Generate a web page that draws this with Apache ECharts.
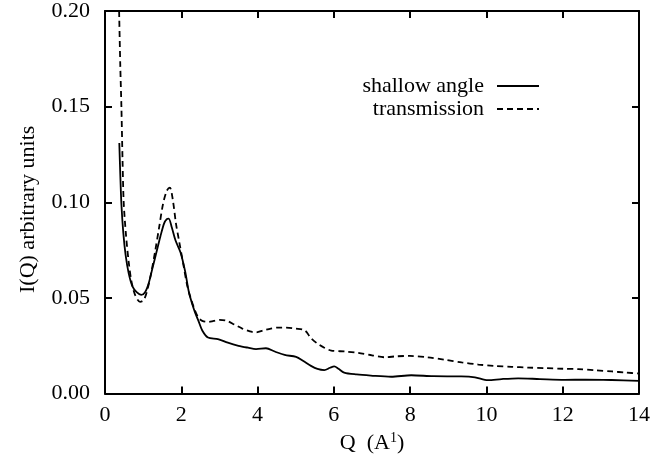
<!DOCTYPE html>
<html>
<head>
<meta charset="utf-8">
<script src="https://cdn.jsdelivr.net/npm/echarts@6/dist/echarts.min.js"></script>
<style>
  html, body { margin: 0; padding: 0; background: #fff; }
  #chart { width: 669px; height: 459px; }
</style>
</head>
<body>
<div id="chart"></div>
<script>
// values
var xTicks = [0, 2, 4, 6, 8, 10, 12, 14];
var yTicks = [0.00, 0.05, 0.10, 0.15, 0.20];

var shallowQ = [0.375, 0.40, 0.43, 0.48, 0.54, 0.62, 0.72, 0.83, 0.95, 1.05, 1.15, 1.25, 1.35, 1.45,
    1.55, 1.62, 1.67, 1.75, 1.85, 1.98, 2.1, 2.2, 2.3, 2.36, 2.45, 2.55, 2.70, 2.96, 3.22, 3.5,
    3.75, 3.96, 4.22, 4.45, 4.71, 5.01, 5.2, 5.4, 5.57, 5.75, 5.9, 6.01, 6.12, 6.27, 6.6, 6.97,
    7.5, 8.03, 8.6, 9.34, 9.7, 10.04, 10.4, 10.83, 11.4, 12.05, 12.6, 13.28, 14.0];
var shallowI = [0.131, 0.115, 0.099, 0.084, 0.0725, 0.063, 0.056, 0.053, 0.0516, 0.053, 0.058, 0.066, 0.074, 0.082,
    0.089, 0.0912, 0.0915, 0.087, 0.080, 0.0738, 0.064, 0.053, 0.046, 0.0424, 0.038, 0.033, 0.0293, 0.0285, 0.0266, 0.025,
    0.024, 0.0233, 0.0237, 0.022, 0.0202, 0.0192, 0.017, 0.0145, 0.0129, 0.0123, 0.0135, 0.0142, 0.013, 0.011, 0.0100, 0.0094,
    0.0088, 0.0096, 0.0091, 0.009, 0.0085, 0.007, 0.0076, 0.008, 0.0076, 0.0072, 0.0073, 0.0071, 0.0067];

var transQ = [0.37, 0.40, 0.43, 0.46, 0.49, 0.55, 0.62, 0.70, 0.80, 0.92, 1.02, 1.12, 1.22, 1.32, 1.42,
    1.52, 1.62, 1.70, 1.78, 1.86, 1.94, 2.05, 2.15, 2.23, 2.33, 2.44, 2.55, 2.7, 2.85, 3.0, 3.2,
    3.4, 3.6, 3.8, 3.96, 4.15, 4.35, 4.53, 4.75, 5.0, 5.24, 5.4, 5.58, 5.75, 5.93, 6.3, 6.63,
    7.0, 7.33, 7.65, 7.99, 8.45, 8.91, 9.35, 9.79, 10.2, 10.66, 11.1, 11.54, 12.0, 12.41, 12.85,
    13.29, 13.65, 14.0];
var transI = [0.200, 0.172, 0.150, 0.122, 0.100, 0.083, 0.069, 0.058, 0.051, 0.048, 0.049, 0.055, 0.064, 0.075, 0.087,
    0.099, 0.106, 0.1077, 0.101, 0.089, 0.080, 0.068, 0.057, 0.051, 0.045, 0.040, 0.038, 0.0375, 0.038, 0.0385, 0.038,
    0.036, 0.034, 0.0325, 0.032, 0.033, 0.034, 0.0345, 0.0345, 0.034, 0.033, 0.029, 0.026, 0.024, 0.0225, 0.022, 0.0213,
    0.020, 0.019, 0.0195, 0.0197, 0.019, 0.0177, 0.0163, 0.0152, 0.0145, 0.014, 0.0136, 0.0133, 0.013, 0.0128, 0.0122,
    0.0116, 0.011, 0.0105];

function pairs(xs, ys) {
    var out = [];
    for (var i = 0; i < xs.length; i++) out.push([xs[i], ys[i]]);
    return out;
}

var font = 'Liberation Serif';
var myChart = echarts.init(document.getElementById('chart'));

function frameLine() {
    return { show: true, onZero: false, lineStyle: { color: '#000', width: 2 } };
}
function inTicks() {
    return { show: true, inside: true, length: 7, lineStyle: { color: '#000', width: 2 } };
}
function legendBox(name, top) {
    return {
        data: [name],
        right: 124, top: top,
        align: 'right',
        itemWidth: 42, itemHeight: 12,
        selectedMode: false,
        itemStyle: { opacity: 0 },
        textStyle: { fontFamily: font, fontSize: 22, color: '#000', padding: [0, 8, 0, 0] }
    };
}

var option = {
    animation: false,
    backgroundColor: '#fff',
    grid: { left: 105, right: 30, top: 11, bottom: 63 },
    legend: [legendBox('shallow angle', 70), legendBox('transmission', 93)],
    xAxis: [
        {
            type: 'value', min: 0, max: 14, interval: 2,
            name: 'Q  (A{sup|1})',
            nameLocation: 'middle', nameGap: 28,
            nameTextStyle: {
                fontFamily: font, fontSize: 22, color: '#000',
                rich: { sup: { fontFamily: font, fontSize: 14, color: '#000', verticalAlign: 'top', padding: [0, 0, 9, 0] } }
            },
            axisLine: frameLine(),
            axisTick: inTicks(),
            splitLine: { show: false },
            axisLabel: { fontFamily: font, fontSize: 22, color: '#000', margin: 11 }
        },
        {
            type: 'value', min: 0, max: 14, interval: 2, position: 'top',
            axisLine: frameLine(), axisTick: inTicks(),
            axisLabel: { show: false }, splitLine: { show: false }
        }
    ],
    yAxis: [
        {
            type: 'value', min: 0, max: 0.2, interval: 0.05,
            name: 'I(Q) arbitrary units',
            nameLocation: 'middle', nameGap: 66,
            nameTextStyle: { fontFamily: font, fontSize: 22, color: '#000', padding: [0, 14, 0, 0] },
            axisLine: frameLine(),
            axisTick: inTicks(),
            splitLine: { show: false },
            axisLabel: {
                fontFamily: font, fontSize: 22, color: '#000', margin: 15,
                formatter: function (v) { return v.toFixed(2); }
            }
        },
        {
            type: 'value', min: 0, max: 0.2, interval: 0.05, position: 'right',
            axisLine: frameLine(), axisTick: inTicks(),
            axisLabel: { show: false }, splitLine: { show: false }
        }
    ],
    series: [
        {
            name: 'shallow angle',
            type: 'line',
            data: pairs(shallowQ, shallowI),
            symbol: 'none',
            smooth: 0.3,
            lineStyle: { color: '#000', width: 1.8, type: 'solid' },
            itemStyle: { color: '#000' }
        },
        {
            name: 'transmission',
            type: 'line',
            data: pairs(transQ, transI),
            symbol: 'none',
            smooth: 0.3,
            lineStyle: { color: '#000', width: 1.8, type: [6, 4] },
            itemStyle: { color: '#000' }
        }
    ]
};

myChart.setOption(option);
</script>
</body>
</html>
